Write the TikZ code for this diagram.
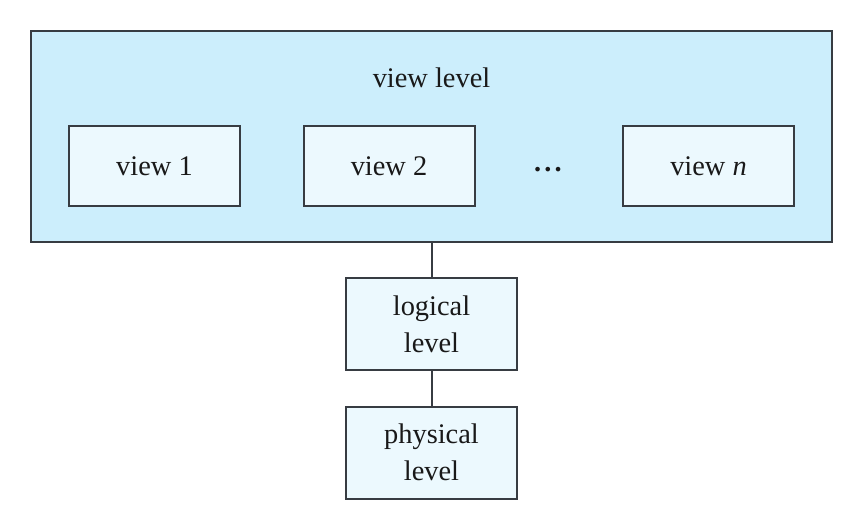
\documentclass[tikz,border=0pt]{standalone}
\usepackage{fontspec}
\setmainfont{Liberation Serif}
\definecolor{levelfill}{RGB}{204,238,252}
\definecolor{viewfill}{RGB}{236,249,254}
\definecolor{edgegray}{RGB}{55,60,66}
\begin{document}
\begin{tikzpicture}[
			x=0.5pt, y=-0.5pt,
			every node/.style={font=\fontsize{14.2}{18.5}\selectfont, text=black!90},
			levelbox/.style={draw=edgegray, line width=1pt, fill=levelfill, inner sep=0pt,
				minimum width=400.5pt, minimum height=105.5pt},
			viewbox/.style={draw=edgegray, line width=1pt, fill=viewfill, inner sep=0pt,
				minimum width=85.5pt, minimum height=40pt},
			tierbox/.style={viewbox, minimum height=46pt, align=center},
			link/.style={draw=edgegray, line width=1pt}
		]
		\useasboundingbox (0,0) rectangle (863,530);
		% view level with its views
		\node[levelbox] (viewlevel) at (431.5,136.5) {};
		\node (viewtitle) at (431.5,78) {view level};
		\node[viewbox] (view1) at (154.5,166) {view 1};
		\node[viewbox] (view2) at (389,166) {view 2};
		\node (dots) at (548,170) {\textbf{.\kern1.6pt.\kern1.6pt.}};
		\node[viewbox] (viewn) at (708.5,166) {view \textit{n}};
		% lower levels
		\node[tierbox] (logical) at (431.5,324) {logical\\level};
		\node[tierbox] (physical) at (431.5,452.5) {physical\\level};
		\draw[link] (viewlevel.south) -- (logical.north);
		\draw[link] (logical.south) -- (physical.north);
	\end{tikzpicture}
\end{document}
